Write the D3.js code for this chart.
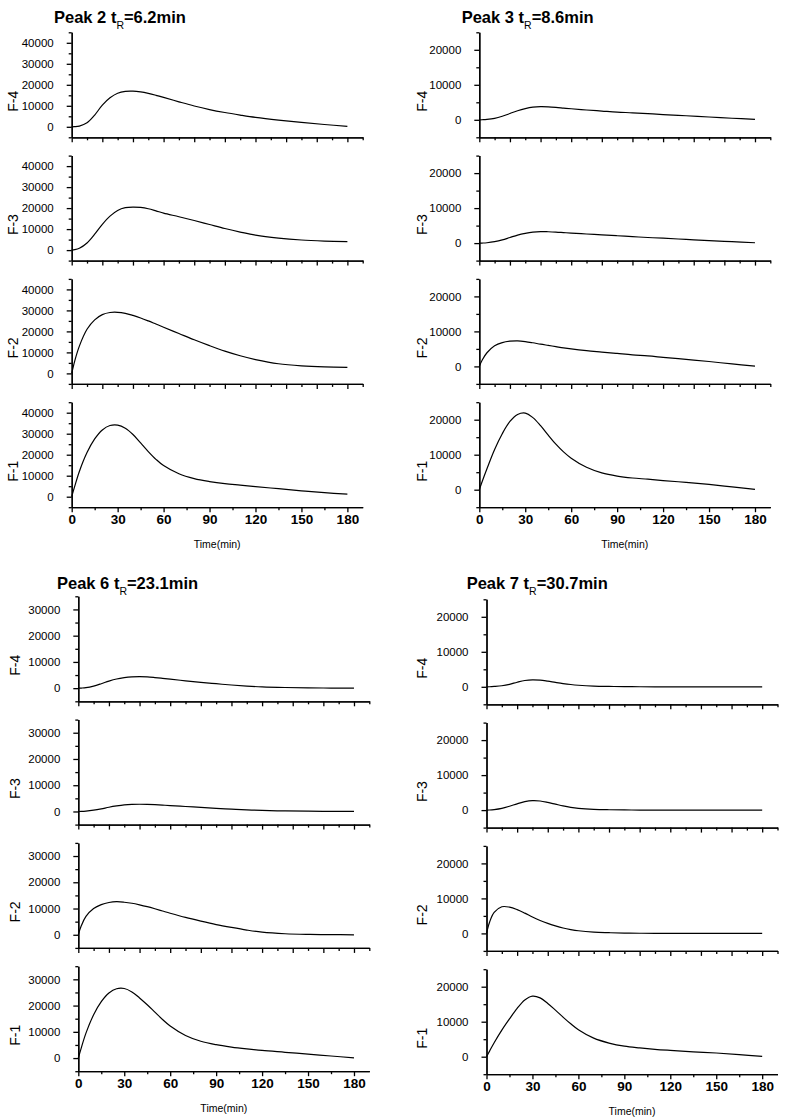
<!DOCTYPE html>
<html><head><meta charset="utf-8">
<script src="https://cdn.jsdelivr.net/npm/d3@7"></script>
<style>
body{margin:0;background:#fff;}
svg{display:block;font-family:Arial,"Liberation Sans",sans-serif;}
</style></head>
<body><svg id="chart" width="785" height="1119"></svg>
<script>
// sample times (min)
const times = [0, 2, 5, 10, 15, 20, 25, 30, 35, 40, 45, 50, 55, 60, 70, 80, 90, 100, 110, 120, 135, 150, 165, 180];
const panelNames = ["F-4", "F-3", "F-2", "F-1"];

// Peak 2
const p2F4 = [0, 50, 350, 1900, 5600, 10300, 13800, 16000, 16900, 17000, 16600, 15900, 15000, 14000, 11900, 9900, 8200, 6800, 5600, 4500, 3200, 2100, 1100, 200];
const p2F3 = [0, 200, 900, 3400, 7600, 12300, 16200, 18900, 20200, 20500, 20300, 19700, 18700, 17600, 15900, 14100, 12200, 10300, 8600, 7100, 5700, 4800, 4300, 4000];
const p2F2 = [0, 6000, 13000, 21000, 25500, 28000, 29000, 29100, 28600, 27600, 26400, 25000, 23500, 22000, 19000, 16000, 13200, 10600, 8400, 6600, 4600, 3600, 3100, 2900];
const p2F1 = [0, 5000, 12000, 21000, 27500, 31800, 33900, 34100, 32600, 29600, 25600, 21500, 17800, 14800, 10900, 8600, 7200, 6200, 5500, 4800, 3800, 2800, 1900, 1200];
// Peak 3
const p3F4 = [0, 20, 100, 400, 1000, 1800, 2600, 3200, 3600, 3750, 3700, 3550, 3350, 3150, 2800, 2500, 2200, 2000, 1750, 1500, 1150, 800, 450, 100];
const p3F3 = [0, 20, 100, 400, 900, 1600, 2300, 2800, 3150, 3300, 3250, 3150, 3000, 2850, 2600, 2350, 2100, 1850, 1600, 1400, 1050, 700, 400, 100];
const p3F2 = [0, 1900, 3900, 5900, 6800, 7200, 7300, 7100, 6750, 6350, 6000, 5650, 5300, 5000, 4500, 4100, 3700, 3300, 3000, 2600, 2000, 1400, 700, 100];
const p3F1 = [0, 2500, 6000, 11500, 16000, 19500, 21500, 21900, 20600, 18300, 15600, 13000, 10800, 9000, 6400, 4800, 3900, 3350, 3000, 2600, 2100, 1500, 800, 100];
// Peak 6
const p6F4 = [0, 50, 200, 800, 1700, 2700, 3500, 4000, 4300, 4400, 4300, 4050, 3750, 3450, 2800, 2200, 1700, 1200, 800, 500, 250, 100, 50, 0];
const p6F3 = [0, 30, 150, 500, 1000, 1600, 2100, 2500, 2700, 2750, 2700, 2580, 2420, 2250, 1900, 1550, 1200, 900, 620, 400, 200, 100, 50, 0];
const p6F2 = [0, 3500, 7000, 10000, 11500, 12300, 12600, 12400, 12000, 11400, 10700, 9900, 9050, 8200, 6600, 5200, 3900, 2800, 1800, 1000, 400, 150, 50, 0];
const p6F1 = [0, 4000, 9500, 16500, 21500, 24800, 26400, 26500, 25200, 22900, 20300, 17500, 14700, 12200, 8600, 6400, 5100, 4200, 3500, 2900, 2200, 1500, 800, 100];
// Peak 7
const p7F4 = [0, 20, 100, 300, 700, 1300, 1800, 2000, 1900, 1600, 1250, 920, 650, 450, 200, 100, 50, 20, 0, 0, 0, 0, 0, 0];
const p7F3 = [0, 30, 150, 500, 1100, 1800, 2400, 2700, 2600, 2200, 1700, 1200, 800, 520, 220, 100, 50, 20, 0, 0, 0, 0, 0, 0];
const p7F2 = [0, 3200, 6000, 7600, 7500, 6800, 5800, 4700, 3700, 2850, 2150, 1550, 1100, 750, 350, 200, 100, 50, 20, 0, 0, 0, 0, 0];
const p7F1 = [0, 1600, 4000, 7600, 10800, 13800, 16200, 17300, 16800, 15200, 13300, 11300, 9400, 7700, 5300, 3900, 3000, 2500, 2100, 1800, 1400, 1050, 600, 100];

// tick values
const xMajorLabeled = [0, 30, 60, 90, 120, 150, 180];
const xMinorLabeled = [15, 45, 75, 105, 135, 165];
const xMajorPlain = [0, 20, 40, 60, 80, 100, 120, 140, 160, 180];
const xMinorPlain = [10, 30, 50, 70, 90, 110, 130, 150, 170, 190];
const titles = [["Peak 2 t", "R", "=6.2min"], ["Peak 3 t", "R", "=8.6min"], ["Peak 6 t", "R", "=23.1min"], ["Peak 7 t", "R", "=30.7min"]];
const yMaxes = [45000, 25000, 35000, 25000];
const xLabel = "Time(min)";

const groups = [
  {title: titles[0], series: [p2F4, p2F3, p2F2, p2F1], yMax: yMaxes[0], left: 71.7, top: 32.3, titleX: 54, titleY: 23.3, labelX: 13},
  {title: titles[1], series: [p3F4, p3F3, p3F2, p3F1], yMax: yMaxes[1], left: 479.3, top: 32.3, titleX: 461.7, titleY: 23.3, labelX: 421.5},
  {title: titles[2], series: [p6F4, p6F3, p6F2, p6F1], yMax: yMaxes[2], left: 78.3, top: 596.3, titleX: 57, titleY: 589.3, labelX: 15},
  {title: titles[3], series: [p7F4, p7F3, p7F2, p7F1], yMax: yMaxes[3], left: 486.5, top: 599.3, titleX: 466.7, titleY: 589.3, labelX: 422}
];

const W = 291, H = 105, PITCH = 123.3;
const svg = d3.select("#chart");

function styleAxis(g, sw) {
  g.selectAll(".domain").attr("stroke", "#000").attr("stroke-width", sw);
  g.selectAll(".tick line").attr("stroke", "#000").attr("stroke-width", sw);
}

groups.forEach(gr => {
  const x = d3.scaleLinear().domain([0, 190]).range([0, W]);
  const t = svg.append("text").attr("x", gr.titleX).attr("y", gr.titleY)
    .attr("font-size", 16.5).attr("font-weight", "bold").attr("fill", "#000");
  t.append("tspan").text(gr.title[0]);
  t.append("tspan").text(gr.title[1]).attr("font-size", 10.5).attr("font-weight", "normal").attr("dy", 6);
  t.append("tspan").text(gr.title[2]).attr("dy", -6);

  const majorY = d3.range(0, gr.yMax, 10000);
  const minorY = d3.range(-5000, gr.yMax + 1, 10000);

  gr.series.forEach((vals, i) => {
    const top = gr.top + i * PITCH;
    const y = d3.scaleLinear().domain([-5000, gr.yMax]).range([H, 0]);
    const g = svg.append("g").attr("transform", `translate(${gr.left},${top})`);
    const last = i === gr.series.length - 1;

    const ym = g.append("g").call(d3.axisLeft(y).tickValues(minorY).tickSize(3).tickSizeOuter(0).tickFormat(""));
    styleAxis(ym, 1.3);
    const ya = g.append("g").call(d3.axisLeft(y).tickValues(majorY).tickSize(5).tickPadding(13).tickSizeOuter(0).tickFormat(d3.format("d")));
    styleAxis(ya, 1.3);
    ya.selectAll("text").attr("font-size", 11.5).attr("font-family", "Arial, 'Liberation Sans', sans-serif").attr("fill", "#000");

    const xg = g.append("g").attr("transform", `translate(0,${H})`);
    const xm = xg.append("g").call(d3.axisBottom(x).tickValues(last ? xMinorLabeled : xMinorPlain).tickSize(3).tickSizeOuter(0).tickFormat(""));
    styleAxis(xm, 1.3);
    const xa = xg.append("g").call(d3.axisBottom(x).tickValues(last ? xMajorLabeled : xMajorPlain).tickSize(5).tickPadding(2).tickSizeOuter(0).tickFormat(last ? d3.format("d") : ""));
    styleAxis(xa, 1.3);
    xa.selectAll("text").attr("font-size", 13.5).attr("font-weight", "bold").attr("font-family", "Arial, 'Liberation Sans', sans-serif").attr("fill", "#000");

    const line = d3.line().x((d, k) => x(times[k])).y(d => y(d)).curve(d3.curveCatmullRom.alpha(0.5));
    g.append("path").datum(vals).attr("d", line).attr("fill", "none").attr("stroke", "#000").attr("stroke-width", 1.2);

    svg.append("text").attr("transform", `translate(${gr.labelX},${top + H - 36}) rotate(-90)`)
      .attr("text-anchor", "middle").attr("dominant-baseline", "central")
      .attr("font-size", 14).attr("fill", "#000").text(panelNames[i]);

    if (last) {
      svg.append("text").attr("x", gr.left + W / 2).attr("y", top + H + 37)
        .attr("text-anchor", "middle").attr("dominant-baseline", "central")
        .attr("font-size", 10.5).attr("fill", "#000").text(xLabel);
    }
  });
});
</script></body></html>
